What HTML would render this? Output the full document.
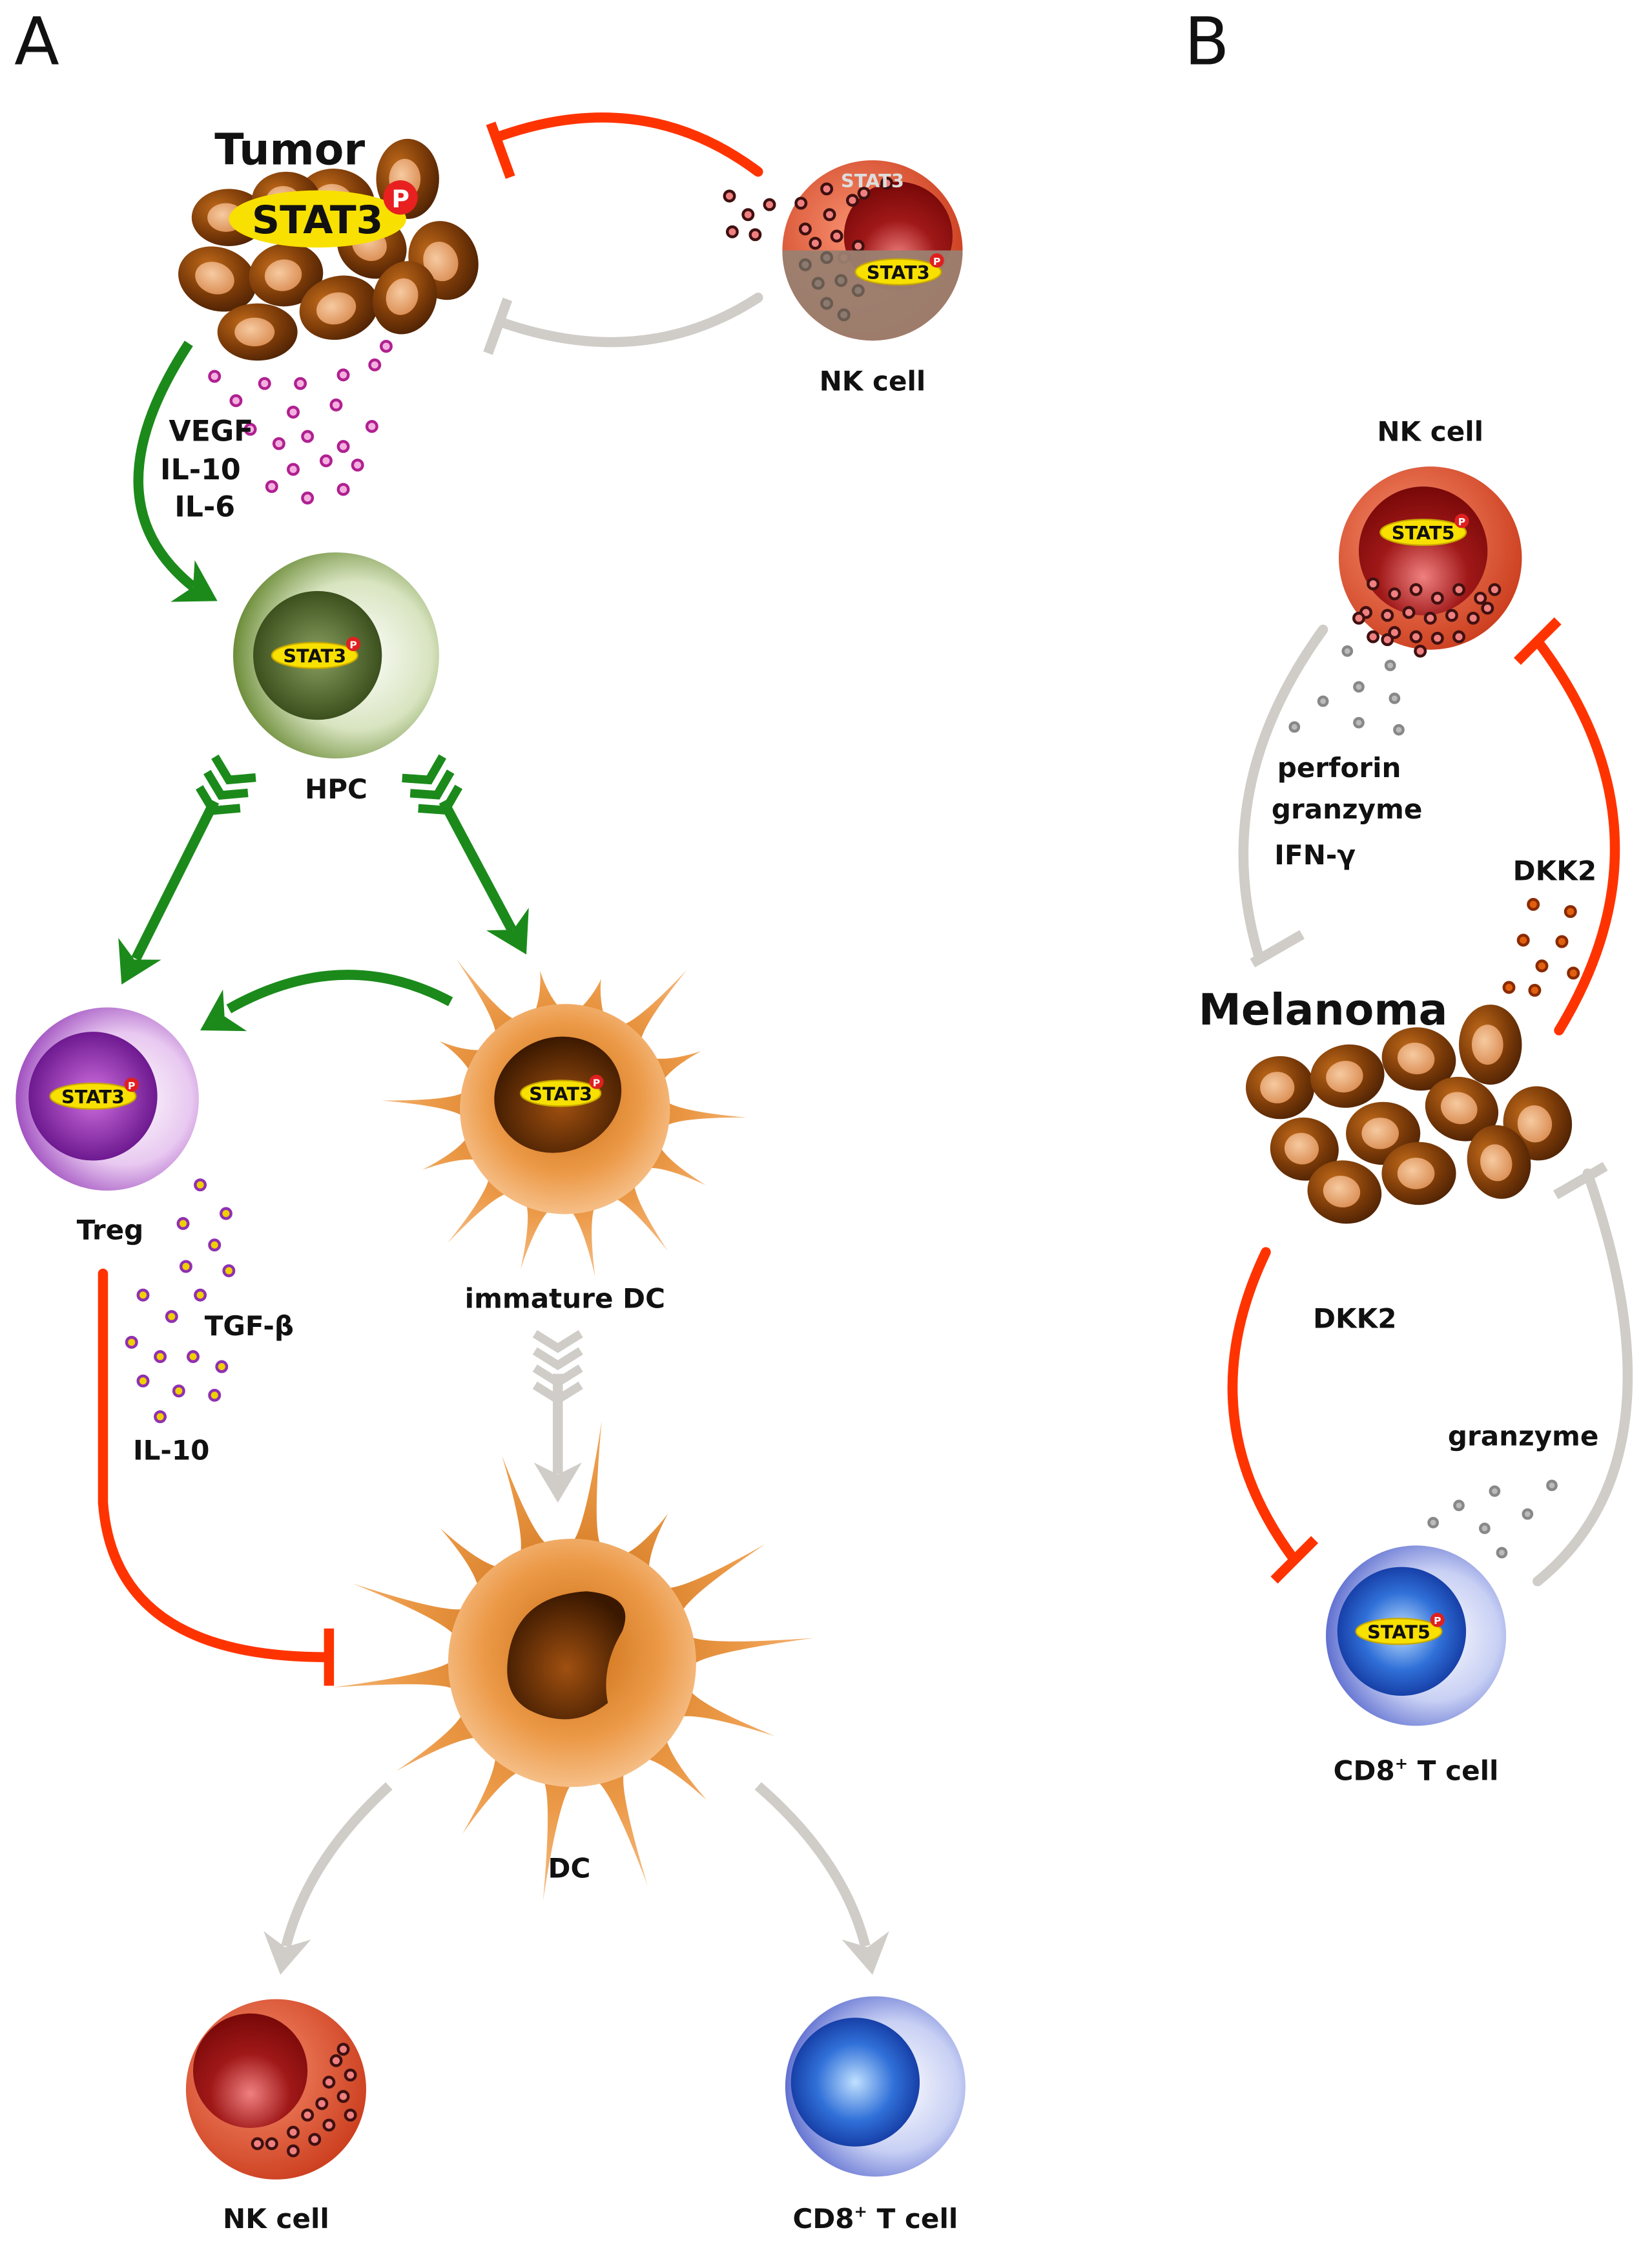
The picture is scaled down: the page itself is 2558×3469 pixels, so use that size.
<!DOCTYPE html>
<html><head><meta charset="utf-8"><style>
html,body{margin:0;padding:0;background:#fff}
svg{display:block}
text{font-family:"DejaVu Sans","Liberation Sans",sans-serif;font-weight:bold}
</style></head><body>
<svg id="s" width="2558" height="3469" viewBox="0 0 1155 1566" preserveAspectRatio="none" xmlns="http://www.w3.org/2000/svg">
<defs>
<radialGradient id="gBrown" cx="0.35" cy="0.35" r="0.75"><stop offset="0" stop-color="#c06a1a"/><stop offset="0.6" stop-color="#7a3a08"/><stop offset="1" stop-color="#4a2004"/></radialGradient>
<radialGradient id="gNuc" cx="0.4" cy="0.4" r="0.7"><stop offset="0" stop-color="#f6caa0"/><stop offset="1" stop-color="#d98a50"/></radialGradient>
<radialGradient id="gRed" cx="0.4" cy="0.4" r="0.7"><stop offset="0" stop-color="#f89070"/><stop offset="1" stop-color="#c83818"/></radialGradient>
<radialGradient id="gDRed" cx="0.5" cy="0.7" r="0.7"><stop offset="0" stop-color="#f08080"/><stop offset="0.5" stop-color="#a01818"/><stop offset="1" stop-color="#780808"/></radialGradient>
<radialGradient id="gGreen" cx="0.6" cy="0.5" r="0.6"><stop offset="0" stop-color="#ffffff"/><stop offset="0.6" stop-color="#d8e4c0"/><stop offset="1" stop-color="#6c8c38"/></radialGradient>
<radialGradient id="gDGreen" cx="0.5" cy="0.5" r="0.6"><stop offset="0" stop-color="#8aa060"/><stop offset="1" stop-color="#2c4010"/></radialGradient>
<radialGradient id="gPurp" cx="0.6" cy="0.5" r="0.6"><stop offset="0" stop-color="#ffffff"/><stop offset="0.6" stop-color="#e8c8f0"/><stop offset="1" stop-color="#a050c0"/></radialGradient>
<radialGradient id="gDPurp" cx="0.5" cy="0.5" r="0.6"><stop offset="0" stop-color="#d070e0"/><stop offset="1" stop-color="#5a0880"/></radialGradient>
<radialGradient id="gBlue" cx="0.6" cy="0.5" r="0.6"><stop offset="0" stop-color="#ffffff"/><stop offset="0.6" stop-color="#c8d0f4"/><stop offset="1" stop-color="#6070d0"/></radialGradient>
<radialGradient id="gDBlue" cx="0.5" cy="0.5" r="0.6"><stop offset="0" stop-color="#c0e0ff"/><stop offset="0.5" stop-color="#3070d8"/><stop offset="1" stop-color="#0a2890"/></radialGradient>
<radialGradient id="gDC" cx="0.5" cy="0.45" r="0.6"><stop offset="0" stop-color="#c86a10"/><stop offset="0.6" stop-color="#ec9a48"/><stop offset="1" stop-color="#f8c898"/></radialGradient>
<radialGradient id="gDCn" cx="0.5" cy="0.6" r="0.6"><stop offset="0" stop-color="#a05010"/><stop offset="1" stop-color="#3a1800"/></radialGradient>
</defs>
<g id="root"></g>
</svg>
<script>
const NS="http://www.w3.org/2000/svg";
const root=document.getElementById('root');
function el(t,a,p){const e=document.createElementNS(NS,t);for(const k in a)e.setAttribute(k,a[k]);(p||root).appendChild(e);return e;}
function txt(x,y,s,sz,fill,anchor,weight){const e=el('text',{x:x,y:y,'font-size':sz,fill:fill||'#111','text-anchor':anchor||'middle'});if(weight)e.style.fontWeight=weight;e.textContent=s;return e;}
function stat(x,y,label,w){w=w||30;el('ellipse',{cx:x,cy:y,rx:w,ry:9,fill:'#f8e000',stroke:'#c8a800','stroke-width':1});txt(x,y+5,label,13,'#111');el('circle',{cx:x+w-3,cy:y-8,r:5,fill:'#e02020'});txt(x+w-3,y-5,'P',7,'#fff');}
function dot(x,y,fill,stroke,r){el('circle',{cx:x,cy:y,r:r||4,fill:fill,stroke:stroke,'stroke-width':2});}
function brownCell(x,y,rx,ry,rot){const g=el('g',{transform:`translate(${x},${y}) rotate(${rot})`});el('ellipse',{cx:0,cy:0,rx:rx,ry:ry,fill:'url(#gBrown)'},g);el('ellipse',{cx:-2,cy:0,rx:rx*0.5,ry:ry*0.5,fill:'url(#gNuc)'},g);}
function P(cx,cy,r,a){return (cx+r*Math.cos(a)).toFixed(1)+','+(cy+r*Math.sin(a)).toFixed(1);}
function star(cx,cy,n,r1,r2,rot,fillId,seed){let d='';for(let i=0;i<n;i++){const a=rot+i*2*Math.PI/n;const rr=r2*(0.8+0.3*Math.abs(Math.sin(i*seed)));const w=Math.PI/n*0.5;
d+=(i==0?'M':'L')+P(cx,cy,r1,a-w)+' Q'+P(cx,cy,r1*1.15,a-w*0.2)+' '+P(cx,cy,rr,a)+' Q'+P(cx,cy,r1*1.15,a+w*0.2)+' '+P(cx,cy,r1,a+w)+' ';}
d+='Z';el('path',{d:d,fill:'url(#'+fillId+')'});el('circle',{cx:cx,cy:cy,r:r1*1.02,fill:'url(#'+fillId+')'});}
function inhib(d,color,tx,ty,ang){el('path',{d:d,fill:'none',stroke:color,'stroke-width':7,'stroke-linecap':'round'});const g=el('g',{transform:`translate(${tx},${ty}) rotate(${ang})`});el('line',{x1:0,y1:-20,x2:0,y2:20,stroke:color,'stroke-width':7},g);}
function arrowHead(x,y,ang,color,s){s=s||22;const g=el('g',{transform:`translate(${x},${y}) rotate(${ang})`});el('path',{d:`M0,0 L${-s},${-s*0.6} L${-s*0.7},0 L${-s},${s*0.6} Z`,fill:color},g);}
function chevrons(x,y,ang,color,n){const g=el('g',{transform:`translate(${x},${y}) rotate(${ang})`});for(let i=0;i<n;i++){el('path',{d:`M${i*12-10},-16 L${i*12},0 L${i*12-10},16`,fill:'none',stroke:color,'stroke-width':6},g);}}

txt(10,45,'A',46,'#111','start','normal');
txt(828,45,'B',46,'#111','start','normal');

// Tumor
[[152,195,28,22,20],[200,192,26,22,-10],[235,140,27,22,10],[285,125,22,28,0],[260,172,25,22,30],[310,182,24,28,-20],[180,232,28,20,0],[237,215,28,22,-15],[283,208,22,26,20],[160,152,26,20,0],[200,140,24,20,0]].forEach(c=>brownCell(...c));
txt(150,115,'Tumor',30,'#111','start');
el('ellipse',{cx:222,cy:153,rx:62,ry:20,fill:'#f8e000'});
txt(222,163,'STAT3',27,'#111');
el('circle',{cx:280,cy:138,r:12,fill:'#e82020'});txt(280,145,'P',17,'#fff');
[[150,263],[165,280],[185,268],[210,268],[240,262],[262,255],[270,242],[205,288],[235,283],[260,298],[195,310],[215,305],[240,312],[175,300],[205,328],[228,322],[250,325],[190,340],[215,348],[240,342]].forEach(p=>dot(p[0],p[1],'#f4b0e0','#b02090',3.5));
txt(118,308,'VEGF',20,'#111','start');txt(112,335,'IL-10',20,'#111','start');txt(122,361,'IL-6',20,'#111','start');

inhib('M530,120 Q450,60 350,95','#ff3300',350,105,-20);
inhib('M530,208 Q450,260 350,225','#d0cdc8',348,228,20);

// NK top
el('circle',{cx:610,cy:175,r:63,fill:'url(#gRed)'});
el('circle',{cx:628,cy:165,r:38,fill:'url(#gDRed)'});
[[563,160],[580,150],[596,140],[578,132],[604,135],[620,128],[560,142],[570,170],[585,165],[600,172],[590,180]].forEach(p=>dot(p[0],p[1],'#f08080','#401010',3.5));
el('path',{d:'M547,175 A63,63 0 0,0 673,175 Z',fill:'#9a8070',opacity:0.95});
[[563,185],[578,180],[572,198],[588,196],[578,212],[600,203],[590,220]].forEach(p=>dot(p[0],p[1],'#8a7a70','#6a5a50',3.5));
txt(610,131,'STAT3',13,'#ddd');
stat(628,190,'STAT3',30);
[[510,137],[523,150],[538,143],[512,162],[528,164]].forEach(p=>dot(p[0],p[1],'#f08080','#401010',3.5));
txt(610,273,'NK cell',19);

el('path',{d:'M132,240 Q60,350 135,410',fill:'none',stroke:'#1b8a1b','stroke-width':7});
arrowHead(152,420,30,'#1b8a1b',28);

// HPC
el('circle',{cx:235,cy:458,r:72,fill:'url(#gGreen)'});
el('circle',{cx:222,cy:458,r:45,fill:'url(#gDGreen)'});
stat(220,458,'STAT3',30);
txt(235,558,'HPC',19);

el('line',{x1:150,y1:560,x2:95,y2:670,stroke:'#1b8a1b','stroke-width':7});
chevrons(160,545,117,'#1b8a1b',3);
arrowHead(85,688,117,'#1b8a1b',28);
el('line',{x1:310,y1:560,x2:358,y2:650,stroke:'#1b8a1b','stroke-width':7});
chevrons(300,545,62,'#1b8a1b',3);
arrowHead(368,667,62,'#1b8a1b',28);

// Treg
el('circle',{cx:75,cy:768,r:64,fill:'url(#gPurp)'});
el('circle',{cx:65,cy:766,r:45,fill:'url(#gDPurp)'});
stat(65,766,'STAT3',30);
txt(77,866,'Treg',19);

el('path',{d:'M315,700 Q240,660 160,705',fill:'none',stroke:'#1b8a1b','stroke-width':7});
arrowHead(140,720,150,'#1b8a1b',28);

// immature DC
star(395,775,14,72,118,-1.3,'gDC',1.7);
el('ellipse',{cx:390,cy:765,rx:45,ry:40,fill:'url(#gDCn)',transform:'rotate(-20 390 765)'});
stat(392,764,'STAT3',28);
txt(395,914,'immature DC',19);

[[140,828],[128,855],[158,848],[150,870],[130,885],[160,888],[100,905],[120,920],[140,905],[92,938],[112,948],[135,948],[155,955],[100,965],[125,972],[150,975],[112,990]].forEach(p=>dot(p[0],p[1],'#f0d000','#9030b0',3.5));
txt(143,933,'TGF-β',19,'#111','start');txt(93,1020,'IL-10',19,'#111','start');

inhib('M72,890 L72,1050 Q80,1158 228,1158','#ff3300',230,1158,0);

el('line',{x1:390,y1:960,x2:390,y2:1030,stroke:'#d0cdc8','stroke-width':7});
chevrons(390,942,90,'#d0cdc8',4);
arrowHead(390,1050,90,'#d0cdc8',28);

// DC
star(400,1162,14,85,155,-1.0,'gDC',2.3);
el('path',{d:'M355,1160 Q360,1115 410,1112 Q445,1115 435,1140 Q420,1165 425,1190 Q400,1210 370,1195 Q352,1185 355,1160 Z',fill:'url(#gDCn)'});
txt(398,1312,'DC',19);

el('path',{d:'M272,1248 Q215,1300 200,1360',fill:'none',stroke:'#d0cdc8','stroke-width':7});
arrowHead(196,1380,100,'#d0cdc8',28);
el('path',{d:'M530,1248 Q590,1300 605,1360',fill:'none',stroke:'#d0cdc8','stroke-width':7});
arrowHead(610,1380,80,'#d0cdc8',28);

// NK bottom
el('circle',{cx:193,cy:1460,r:63,fill:'url(#gRed)'});
el('circle',{cx:175,cy:1447,r:40,fill:'url(#gDRed)'});
[[235,1440],[245,1450],[230,1455],[240,1465],[225,1470],[245,1478],[215,1478],[230,1485],[205,1490],[220,1495],[190,1498],[205,1503],[180,1498],[240,1432]].forEach(p=>dot(p[0],p[1],'#f08080','#401010',3.5));
txt(193,1557,'NK cell',19);

el('circle',{cx:612,cy:1458,r:63,fill:'url(#gBlue)'});
el('circle',{cx:598,cy:1455,r:45,fill:'url(#gDBlue)'});
const t1=txt(612,1557,'CD8',19);const ts=el('tspan',{'font-size':11,dy:-8},t1);ts.textContent='+';const ts2=el('tspan',{dy:8},t1);ts2.textContent=' T cell';

// Panel B
txt(1000,308,'NK cell',19);
el('circle',{cx:1000,cy:390,r:64,fill:'url(#gRed)'});
el('circle',{cx:995,cy:385,r:45,fill:'url(#gDRed)'});
stat(995,372,'STAT5',30);
[[960,408],[975,415],[990,412],[1005,418],[1020,412],[1035,418],[1045,412],[955,428],[970,430],[985,428],[1000,432],[1015,430],[1030,432],[1040,425],[960,445],[975,442],[990,445],[1005,446],[1020,445],[950,432],[993,455],[970,447]].forEach(p=>dot(p[0],p[1],'#f08080','#401010',3.5));
[[942,455],[972,465],[925,490],[950,480],[975,488],[905,508],[950,505],[978,510]].forEach(p=>dot(p[0],p[1],'#bbb','#888',3));
inhib('M925,440 Q845,550 880,668','#d0cdc8',893,663,60);
txt(893,543,'perforin',19,'#111','start');txt(889,572,'granzyme',19,'#111','start');txt(891,604,'IFN-γ',19,'#111','start');
inhib('M1090,720 Q1175,580 1075,448','#ff3300',1075,448,45);
txt(1087,615,'DKK2',19);
[[1072,632],[1098,637],[1065,657],[1092,658],[1078,675],[1055,690],[1073,692],[1100,680]].forEach(p=>dot(p[0],p[1],'#e06010','#8a2a00',3.5));

txt(925,716,'Melanoma',30);
[[895,760,24,22,0],[942,752,26,22,-10],[992,740,26,22,10],[1042,730,22,28,0],[1075,785,24,26,-10],[1022,775,26,22,20],[967,792,26,22,0],[912,803,24,22,10],[1048,812,22,26,-15],[992,820,26,22,0],[940,833,26,22,10]].forEach(c=>brownCell(...c));

inhib('M885,875 Q830,990 905,1090','#ff3300',905,1090,45);
txt(918,928,'DKK2',19,'#111','start');
inhib('M1075,1105 Q1180,1020 1110,820','#d0cdc8',1105,825,60);
txt(1065,1010,'granzyme',19);
[[1085,1038],[1045,1042],[1020,1052],[1068,1058],[1002,1064],[1038,1068],[1050,1085]].forEach(p=>dot(p[0],p[1],'#bbb','#888',3));

el('circle',{cx:990,cy:1143,r:63,fill:'url(#gBlue)'});
el('circle',{cx:980,cy:1140,r:45,fill:'url(#gDBlue)'});
stat(978,1140,'STAT5',30);
const t2=txt(990,1244,'CD8',19);const u=el('tspan',{'font-size':11,dy:-8},t2);u.textContent='+';const u2=el('tspan',{dy:8},t2);u2.textContent=' T cell';
</script>
</body></html>
